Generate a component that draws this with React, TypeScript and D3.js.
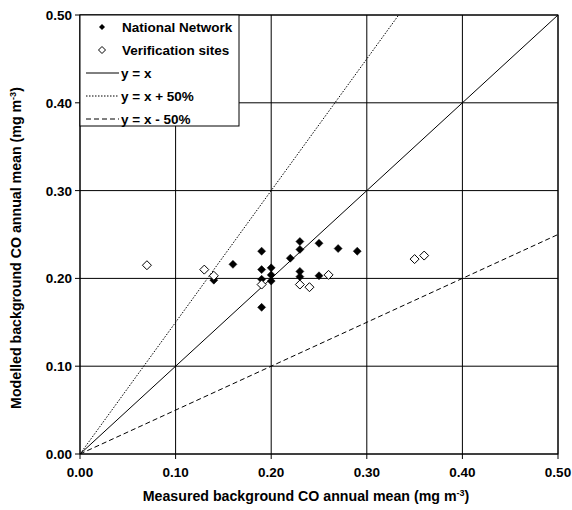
import React from "react";
import * as d3 from "d3";

const nationalX = [0.19, 0.16, 0.14, 0.19, 0.19, 0.19, 0.20, 0.20, 0.20, 0.22, 0.23, 0.23, 0.23, 0.23, 0.25, 0.25, 0.27, 0.29];
const nationalY = [0.231, 0.216, 0.198, 0.210, 0.199, 0.167, 0.212, 0.204, 0.197, 0.223, 0.242, 0.233, 0.208, 0.202, 0.240, 0.203, 0.234, 0.231];
const verifX = [0.07, 0.13, 0.14, 0.19, 0.23, 0.24, 0.26, 0.35, 0.36];
const verifY = [0.215, 0.210, 0.203, 0.193, 0.193, 0.190, 0.204, 0.222, 0.226];
const ticks = [0, 0.1, 0.2, 0.3, 0.4, 0.5];
const refLines = [
  { label: "y = x", slope: 1, dash: "" },
  { label: "y = x + 50%", slope: 1.5, dash: "1.5,1.5" },
  { label: "y = x - 50%", slope: 0.5, dash: "5,3" },
];
const legendSeries = ["National Network", "Verification sites"];

const W = 572, H = 510;
const left = 80, right = 558, top = 15, bottom = 454;
const font = "'Liberation Sans', Arial, sans-serif";
const fs = 13.5;
const tfs = 14.2;

export default function App() {
  const x = d3.scaleLinear().domain([0, 0.5]).range([left, right]);
  const y = d3.scaleLinear().domain([0, 0.5]).range([bottom, top]);
  const fmt = d3.format(".2f");
  const diamond = (cx: number, cy: number, r: number) =>
    `M${cx},${cy - r}L${cx + r},${cy}L${cx},${cy + r}L${cx - r},${cy}Z`;
  const line = d3.line<[number, number]>().x((d) => x(d[0])).y((d) => y(d[1]));

  const legX = left, legY = top, legW = 159, legH = 111;
  return (
    <svg width={W} height={H} style={{ display: "block", position: "absolute", left: 0, top: 0 }}>
      <rect width={W} height={H} fill="#fff" />
      {ticks.map((t) => (
        <g key={"g" + t}>
          <line x1={x(t)} x2={x(t)} y1={top} y2={bottom + 5} stroke="#000" strokeWidth={1} />
          <line x1={left - 5} x2={right} y1={y(t)} y2={y(t)} stroke="#000" strokeWidth={1} />
        </g>
      ))}
      <defs>
        <clipPath id="clip">
          <rect x={left} y={top} width={right - left} height={bottom - top} />
        </clipPath>
      </defs>
      <g clipPath="url(#clip)">
        {refLines.map((r) => (
          <path
            key={r.label}
            d={line([[0, 0], [0.5, 0.5 * r.slope]]) || ""}
            stroke="#000"
            strokeWidth={1}
            strokeDasharray={r.dash || undefined}
            fill="none"
          />
        ))}
      </g>
      {nationalX.map((v, i) => (
        <path key={"n" + i} d={diamond(x(v), y(nationalY[i]), 4)} fill="#000" stroke="#000" strokeWidth={0.5} />
      ))}
      {verifX.map((v, i) => (
        <path key={"v" + i} d={diamond(x(v), y(verifY[i]), 4.5)} fill="#fff" stroke="#000" strokeWidth={1} />
      ))}
      <rect x={left} y={top} width={right - left} height={bottom - top} fill="none" stroke="#000" strokeWidth={1} />
      {/* legend */}
      <rect x={legX} y={legY} width={legW} height={legH} fill="#fff" stroke="#000" strokeWidth={1} />
      {legendSeries.map((s, i) => {
        const cy = legY + 12 + i * 23;
        return (
          <g key={s}>
            {i === 0 ? (
              <path d={diamond(102, cy, 3)} fill="#000" />
            ) : (
              <path d={diamond(102, cy, 3.5)} fill="#fff" stroke="#000" strokeWidth={1} />
            )}
            <text x={122} y={cy + 5} fontFamily={font} fontWeight="bold" fontSize={fs}>{s}</text>
          </g>
        );
      })}
      {refLines.map((r, i) => {
        const cy = legY + 58 + i * 23;
        return (
          <g key={"l" + r.label}>
            <line x1={86} x2={119} y1={cy} y2={cy} stroke="#000" strokeWidth={1} strokeDasharray={r.dash || undefined} />
            <text x={121} y={cy + 5} fontFamily={font} fontWeight="bold" fontSize={fs}>{r.label}</text>
          </g>
        );
      })}
      {/* tick labels */}
      {ticks.map((t) => (
        <text key={"xt" + t} x={x(t)} y={bottom + 23} textAnchor="middle" fontFamily={font} fontWeight="bold" fontSize={fs}>
          {fmt(t)}
        </text>
      ))}
      {ticks.map((t) => (
        <text key={"yt" + t} x={left - 8} y={y(t) + 5} textAnchor="end" fontFamily={font} fontWeight="bold" fontSize={fs}>
          {fmt(t)}
        </text>
      ))}
      <text x={306} y={501} textAnchor="middle" fontFamily={font} fontWeight="bold" fontSize={tfs}>
        Measured background CO annual mean (mg m
        <tspan dy={-5} fontSize={9}>-3</tspan>
        <tspan dy={5}>)</tspan>
      </text>
      <text
        transform={`translate(21,248) rotate(-90)`}
        textAnchor="middle"
        fontFamily={font}
        fontWeight="bold"
        fontSize={tfs}
      >
        Modelled background CO annual mean (mg m
        <tspan dy={-5} fontSize={9}>-3</tspan>
        <tspan dy={5}>)</tspan>
      </text>
    </svg>
  );
}
